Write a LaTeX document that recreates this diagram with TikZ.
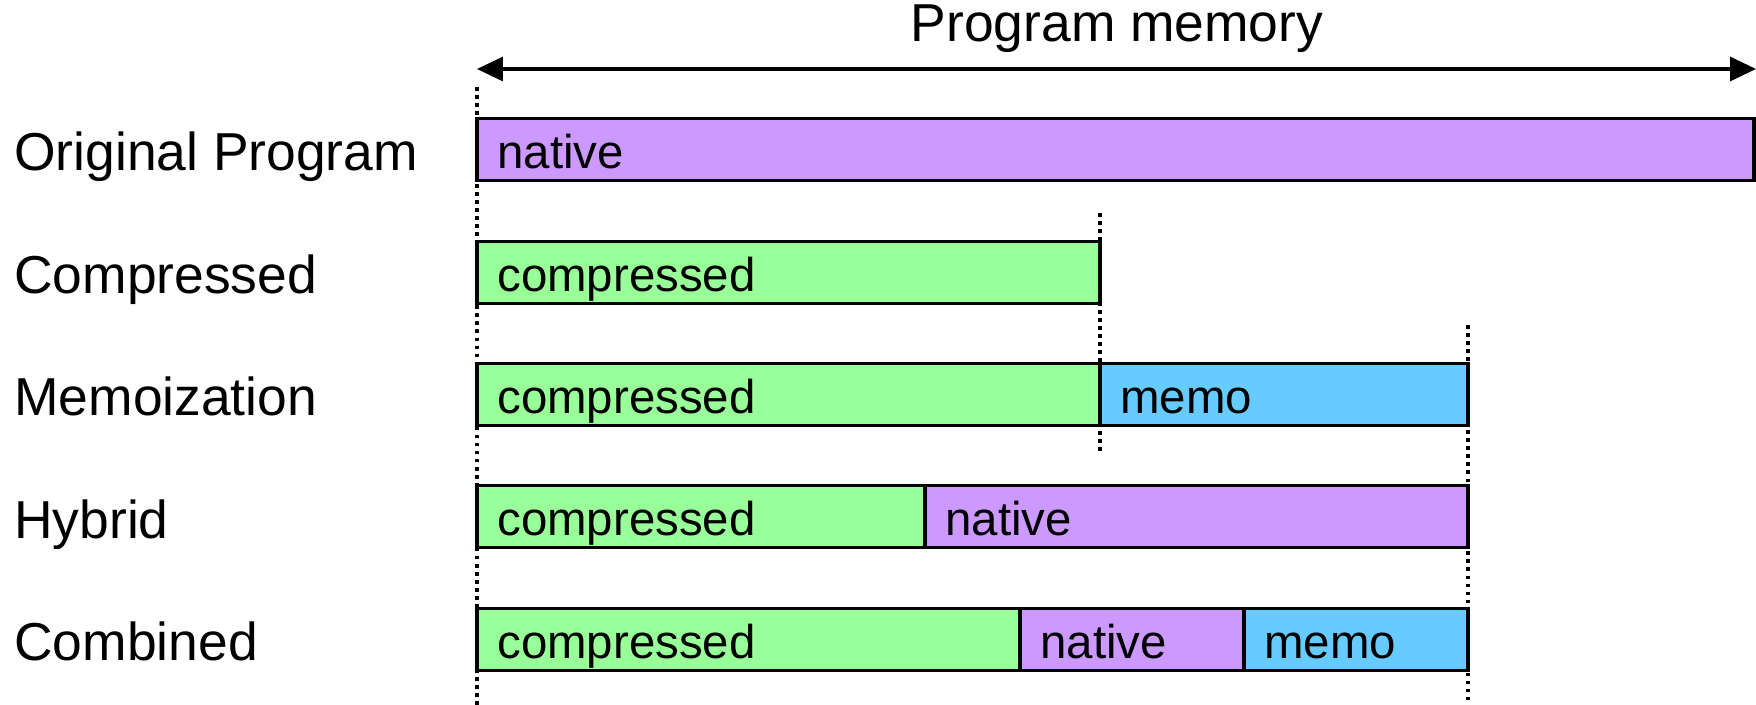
\documentclass[tikz,border=0pt]{standalone}
\usepackage{fontspec}
\setmainfont{Liberation Sans}
\usetikzlibrary{arrows.meta}

\definecolor{nativecol}{HTML}{CC99FF}
\definecolor{compcol}{HTML}{99FF99}
\definecolor{memocol}{HTML}{66CCFF}

\begin{document}
\begin{tikzpicture}[x=0.02cm, y=-0.02cm,
    bar/.style={draw, line width=1.9pt},
    rowlabel/.style={anchor=base west, inner sep=0pt, font=\fontsize{30.4}{36}\selectfont},
    bartext/.style={anchor=base west, inner sep=0pt, font=\fontsize{27}{32}\selectfont},
    guide/.style={line width=1.9pt, dash pattern=on 2.1pt off 2.5pt}]
  \useasboundingbox (0,0) rectangle (1756,705);

  % dotted size markers
  \draw[guide] (477,87) -- (477,705);
  \draw[guide] (1100,213) -- (1100,453);
  \draw[guide] (1468,325) -- (1468,705);

  % total memory arrow
  \coordinate (memstart) at (477,69);
  \coordinate (memend) at (1756,69);
  \draw[{Triangle[length=0.52cm, width=0.48cm]}-{Triangle[length=0.52cm, width=0.48cm]}, line width=1.9pt] (memstart) -- (memend);
  \node[rowlabel, anchor=base] (memtitle) at (1117,42) {Program memory};

  % row labels
  \node[rowlabel] (lorig) at (14,171) {Original Program};
  \node[rowlabel] (lcomp) at (14,293.5) {Compressed};
  \node[rowlabel] (lmemo) at (14,416) {Memoization};
  \node[rowlabel] (lhyb) at (14,538.5) {Hybrid};
  \node[rowlabel] (lcomb) at (14,661) {Combined};

  % original program
  \draw[bar, fill=nativecol] (477,118.5) rectangle (1754,180.5);
  \node[bartext] (orignat) at (497,168.5) {native};

  % compressed
  \draw[bar, fill=compcol] (477,241.5) rectangle (1100,303.5);
  \node[bartext] (compcomp) at (497,291.5) {compressed};

  % memoization
  \draw[bar, fill=compcol] (477,363.5) rectangle (1100,425.5);
  \draw[bar, fill=memocol] (1100,363.5) rectangle (1468,425.5);
  \node[bartext] (memocomp) at (497,413.5) {compressed};
  \node[bartext] (memomemo) at (1120,413.5) {memo};

  % hybrid
  \draw[bar, fill=compcol] (477,485.5) rectangle (925,547.5);
  \draw[bar, fill=nativecol] (925,485.5) rectangle (1468,547.5);
  \node[bartext] (hybcomp) at (497,535.5) {compressed};
  \node[bartext] (hybnat) at (945,535.5) {native};

  % combined
  \draw[bar, fill=compcol] (477,608.5) rectangle (1020,670.5);
  \draw[bar, fill=nativecol] (1020,608.5) rectangle (1244,670.5);
  \draw[bar, fill=memocol] (1244,608.5) rectangle (1468,670.5);
  \node[bartext] (combcomp) at (497,658.5) {compressed};
  \node[bartext] (combnat) at (1040,658.5) {native};
  \node[bartext] (combmemo) at (1264,658.5) {memo};
\end{tikzpicture}
\end{document}
